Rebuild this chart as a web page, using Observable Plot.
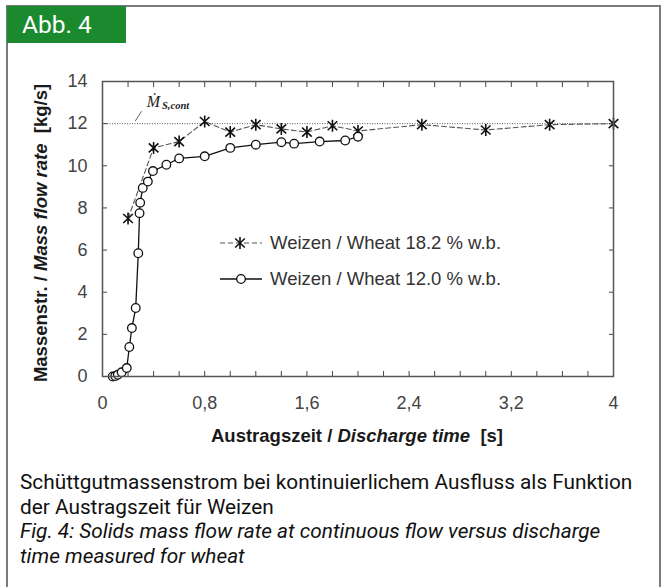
<!DOCTYPE html>
<html>
<head>
<meta charset="utf-8">
<script src="https://cdn.jsdelivr.net/npm/d3@7"></script>
<script src="https://cdn.jsdelivr.net/npm/@observablehq/plot@0.6"></script>
<style>
  html, body { margin: 0; padding: 0; background: #fff; }
  #page { position: relative; width: 661px; height: 587px; overflow: hidden; background: #fff; }
  #card { position: absolute; left: 6px; top: 5px; width: 651px; height: 620px; border: 2px solid #7a7a7a; border-bottom: none; }
  #badge { position: absolute; left: 7px; top: 6px; width: 119px; height: 37px; background: #1b8a2f; color: #fff;
           font-family: Roboto, "Liberation Sans", sans-serif; font-size: 24.5px; line-height: 37px; padding-left: 15px; box-sizing: border-box; }
  #chart { position: absolute; left: 0; top: 0; }
  .axlab { position: absolute; font-family: "Liberation Sans", Arial, sans-serif; font-weight: bold; color: #1a1a1a; white-space: nowrap; }
  #xlab { left: 357px; top: 436px; transform: translate(-50%, -50%); font-size: 18.5px; }
  #ylab { left: 41px; top: 233px; transform: translate(-50%, -50%) rotate(-90deg); font-size: 18.5px; }
  #caption { position: absolute; left: 20px; top: 470px; width: 640px; font-family: Roboto, "Liberation Sans", sans-serif;
             font-size: 20.8px; line-height: 24.5px; color: #111; white-space: nowrap; }
</style>
</head>
<body>
<div id="page">
  <div id="card"></div>
  <div id="badge">Abb. 4</div>
  <div id="chart"></div>
  <div class="axlab" id="xlab">Austragszeit / <i>Discharge time</i>&nbsp; [s]</div>
  <div class="axlab" id="ylab">Massenstr. / <i>Mass flow rate</i>&nbsp; [kg/s]</div>
  <div id="caption">Schüttgutmassenstrom bei kontinuierlichem Ausfluss als Funktion<br>der Austragszeit für Weizen<br><i>Fig. 4: Solids mass flow rate at continuous flow versus discharge<br>time measured for wheat</i></div>
</div>
<script>
// Series: wheat 18.2 % w.b. (asterisks, dashed)
const wetTime = [0.2, 0.4, 0.6, 0.8, 1.0, 1.2, 1.4, 1.6, 1.8, 2.0, 2.5, 3.0, 3.5, 4.0];
const wetRate = [7.5, 10.85, 11.15, 12.1, 11.6, 11.95, 11.75, 11.6, 11.9, 11.65, 11.95, 11.7, 11.95, 12.0];
// Series: wheat 12.0 % w.b. (open circles, solid)
const dryTime = [0.08, 0.1, 0.12, 0.15, 0.19, 0.21, 0.23, 0.26, 0.28, 0.29, 0.295, 0.315, 0.355, 0.395, 0.5, 0.6, 0.8, 1.0, 1.2, 1.4, 1.5, 1.7, 1.9, 2.0];
const dryRate = [0.0, 0.02, 0.08, 0.2, 0.4, 1.4, 2.3, 3.25, 5.85, 7.75, 8.25, 8.95, 9.25, 9.75, 10.05, 10.35, 10.45, 10.85, 11.0, 11.12, 11.05, 11.15, 11.2, 11.38];
// Continuous flow reference level
const contRate = [12];
// Ticks
const xLabelTicks = [0, 0.8, 1.6, 2.4, 3.2, 4];
const xMinorTicks = [0, 0.2, 0.4, 0.6, 0.8, 1.0, 1.2, 1.4, 1.6, 1.8, 2.0, 2.2, 2.4, 2.6, 2.8, 3.0, 3.2, 3.4, 3.6, 3.8, 4.0];
const yTicks = [0, 2, 4, 6, 8, 10, 12, 14];
const seriesNames = ["Weizen / Wheat 18.2 % w.b.", "Weizen / Wheat 12.0 % w.b."];

const wet = wetTime.map((t, i) => ({t, m: wetRate[i]}));
const dry = dryTime.map((t, i) => ({t, m: dryRate[i]}));

// asterisk made of an X plus a vertical bar
const starSymbol = {
  draw(ctx, size) {
    const r = Math.sqrt(size / Math.PI);
    const a = r * 0.8, b = r * 0.75;
    ctx.moveTo(0, -r); ctx.lineTo(0, r);
    ctx.moveTo(-a, -b); ctx.lineTo(a, b);
    ctx.moveTo(-a, b); ctx.lineTo(a, -b);
  }
};

const W = 661, H = 460;
const plot = Plot.plot({
  width: W, height: H,
  marginLeft: 102, marginRight: 48, marginTop: 81, marginBottom: 84,
  style: {fontFamily: '"Liberation Sans", Arial, sans-serif', fontSize: "18px", color: "#444", background: "transparent", overflow: "visible"},
  x: {domain: [0, 4], label: null},
  y: {domain: [0, 14], label: null},
  marks: [
    Plot.ruleY(contRate, {stroke: "#555", strokeWidth: 1, strokeDasharray: "1,1.5"}),
    Plot.line(wet, {x: "t", y: "m", stroke: "#555", strokeWidth: 1.1, strokeDasharray: "5,3"}),
    Plot.line(dry, {x: "t", y: "m", stroke: "#111", strokeWidth: 1.3}),
    Plot.dot(wet, {x: "t", y: "m", symbol: starSymbol, r: 6, stroke: "#111", strokeWidth: 1.6}),
    Plot.dot(dry, {x: "t", y: "m", r: 4.3, fill: "#fff", stroke: "#111", strokeWidth: 1.3}),
    Plot.axisX(xMinorTicks, {anchor: "bottom", tickSize: -5, tickFormat: () => "", stroke: "#444", label: null}),
    Plot.axisX(xMinorTicks, {anchor: "top", tickSize: -5, tickFormat: () => "", stroke: "#444", label: null}),
    Plot.axisY(yTicks, {anchor: "left", tickSize: -5, tickFormat: () => "", stroke: "#444", label: null}),
    Plot.axisY(yTicks, {anchor: "right", tickSize: -5, tickFormat: () => "", stroke: "#444", label: null}),
    Plot.axisX(xLabelTicks, {anchor: "bottom", tickSize: 0, tickPadding: 20, fontSize: 18, tickFormat: d => String(d).replace(".", ","), fill: "#444", label: null}),
    Plot.axisY(yTicks, {anchor: "left", tickSize: 0, tickPadding: 15, fontSize: 18, fill: "#444", label: null}),
    Plot.frame({stroke: "#555", strokeWidth: 1.5})
  ]
});
document.getElementById("chart").appendChild(plot);

// Annotations: Ṁ S,cont label and legend
const sx = plot.scale("x"), sy = plot.scale("y");
const svg = d3.select(plot);
const y12 = sy.apply(contRate[0]);
const ann = svg.append("g").attr("text-anchor", "start");
ann.append("line").attr("x1", sx.apply(0.31)).attr("y1", y12 - 12).attr("x2", sx.apply(0.26)).attr("y2", y12 - 2)
  .attr("stroke", "#555").attr("stroke-width", 0.9);
const mt = ann.append("text").attr("x", sx.apply(0.35)).attr("y", y12 - 16)
  .attr("font-family", '"Liberation Serif", "DejaVu Serif", serif').attr("font-style", "italic").attr("fill", "#222");
mt.append("tspan").attr("font-size", 16).text("Ṁ");
mt.append("tspan").attr("font-size", 10.5).attr("font-weight", "bold").attr("dx", 2).attr("dy", 2).text("S,cont");

const leg = svg.append("g").attr("text-anchor", "start").attr("font-family", '"Liberation Sans", Arial, sans-serif').attr("font-size", 18.5).attr("fill", "#333");
const legY = [243, 279];
// star legend
leg.append("line").attr("x1", 220).attr("x2", 262).attr("y1", legY[0]).attr("y2", legY[0])
  .attr("stroke", "#555").attr("stroke-width", 1.1).attr("stroke-dasharray", "5,3");
leg.append("path").attr("transform", `translate(240,${legY[0]})`).attr("d", d3.symbol(starSymbol, Math.PI * 36)())
  .attr("stroke", "#111").attr("stroke-width", 1.6).attr("fill", "none");
leg.append("text").attr("x", 270).attr("y", legY[0]).attr("dy", "0.35em").text(seriesNames[0]);
// circle legend
leg.append("line").attr("x1", 220).attr("x2", 262).attr("y1", legY[1]).attr("y2", legY[1])
  .attr("stroke", "#111").attr("stroke-width", 1.3);
leg.append("circle").attr("cx", 241).attr("cy", legY[1]).attr("r", 4.3).attr("fill", "#fff").attr("stroke", "#111").attr("stroke-width", 1.3);
leg.append("text").attr("x", 270).attr("y", legY[1]).attr("dy", "0.35em").text(seriesNames[1]);
</script>
</body>
</html>
